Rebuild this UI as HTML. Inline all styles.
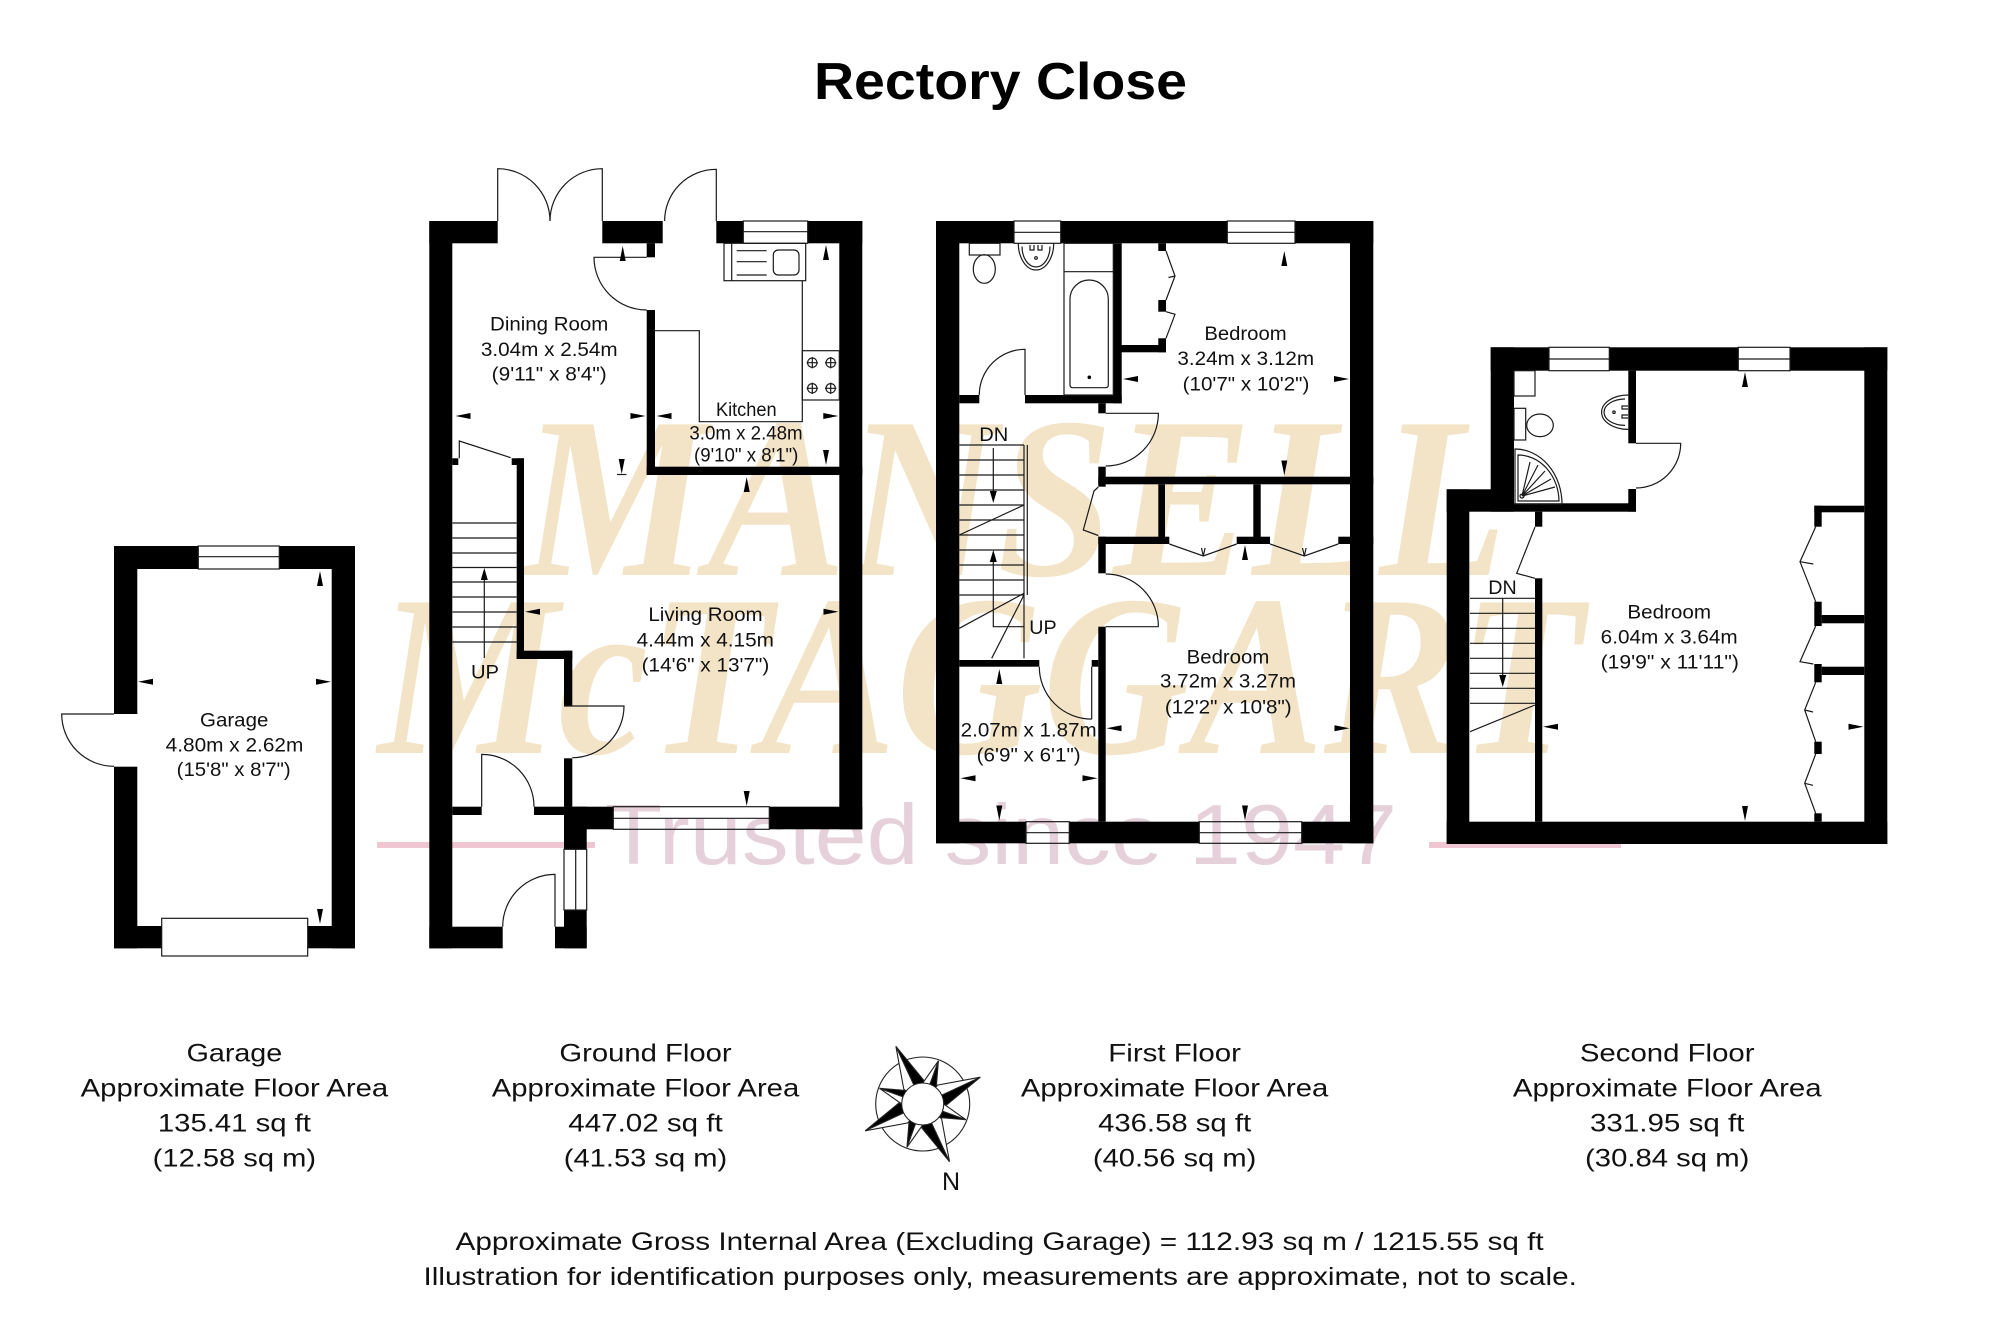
<!DOCTYPE html>
<html><head><meta charset="utf-8"><style>html,body{margin:0;padding:0;background:#fff}svg{display:block}</style></head>
<body>
<svg xmlns="http://www.w3.org/2000/svg" width="2000" height="1334" viewBox="0 0 2000 1334">
<rect width="2000" height="1334" fill="#fff"/>
<!-- watermark -->
<g font-family="'Liberation Serif', serif" font-weight="bold" font-style="italic" fill="#f3e4c8">
<text x="522" y="575" font-size="230" textLength="985" lengthAdjust="spacingAndGlyphs">MANSELL</text>
<text x="378" y="753" font-size="230" textLength="1205" lengthAdjust="spacingAndGlyphs">McTAGGART</text>
</g>
<text x="605" y="864" font-family="'Liberation Sans', sans-serif" font-size="85" fill="#e6d1da" textLength="792" lengthAdjust="spacingAndGlyphs">Trusted since 1947</text>
<rect x="377" y="842" width="218" height="6" fill="#f0c6d3"/>
<rect x="1429" y="842" width="192" height="6" fill="#f0c6d3"/>

<!-- title -->
<text x="814" y="99" font-family="'Liberation Sans', sans-serif" font-weight="bold" font-size="52" textLength="373" lengthAdjust="spacingAndGlyphs">Rectory Close</text>

<!-- WALLS -->
<g fill="#000">
<!-- ground floor -->
<rect x="429.3" y="221" width="23" height="727.3"/>
<rect x="429.3" y="221" width="68.4" height="22.3"/>
<rect x="602.3" y="221" width="60.4" height="22.3"/>
<rect x="716.3" y="221" width="27" height="22.3"/>
<rect x="807.7" y="221" width="54.6" height="22.3"/>
<rect x="839.3" y="221" width="23" height="608.3"/>
<rect x="646.7" y="243.3" width="8.3" height="14"/>
<rect x="646.7" y="310" width="8.3" height="165"/>
<rect x="646.7" y="466.7" width="215.6" height="8.3"/>
<rect x="452.3" y="458.3" width="6" height="6.7"/>
<rect x="511.7" y="458.3" width="12.3" height="6.7"/>
<rect x="516.7" y="458.3" width="7.3" height="200.7"/>
<rect x="516.7" y="650.7" width="55.6" height="8.3"/>
<rect x="564" y="650.7" width="8.3" height="55.3"/>
<rect x="564" y="758.3" width="8.3" height="48.4"/>
<rect x="564" y="806.7" width="49.3" height="22.6"/>
<rect x="769.3" y="806.7" width="93" height="22.6"/>
<rect x="564" y="806.7" width="22.7" height="42.6"/>
<rect x="452.3" y="806.7" width="29.4" height="8.3"/>
<rect x="534" y="806.7" width="30" height="8.3"/>
<rect x="564" y="910" width="22.7" height="38.3"/>
<rect x="429.3" y="926.7" width="73.4" height="21.6"/>
<rect x="555" y="926.7" width="31.7" height="21.6"/>
<!-- garage -->
<rect x="114" y="546" width="23.3" height="168"/>
<rect x="114" y="766.7" width="23.3" height="181.6"/>
<rect x="114" y="546" width="84.3" height="23"/>
<rect x="279.3" y="546" width="75.7" height="23"/>
<rect x="331.7" y="546" width="23.3" height="402.3"/>
<rect x="114" y="926" width="47.7" height="22.3"/>
<rect x="307.7" y="926" width="47.3" height="22.3"/>
<!-- first floor -->
<rect x="936" y="221" width="23.3" height="622.3"/>
<rect x="936" y="221" width="78" height="22.3"/>
<rect x="1060.7" y="221" width="166.6" height="22.3"/>
<rect x="1295" y="221" width="78.3" height="22.3"/>
<rect x="1350" y="221" width="23.3" height="622.3"/>
<rect x="936" y="821.7" width="90" height="21.6"/>
<rect x="1069.3" y="821.7" width="130" height="21.6"/>
<rect x="1301.7" y="821.7" width="71.6" height="21.6"/>
<rect x="1113.3" y="243.3" width="8.4" height="160"/>
<rect x="959.3" y="395" width="20" height="8.3"/>
<rect x="1025" y="395" width="96.7" height="8.3"/>
<rect x="1113.3" y="345" width="52.7" height="7.3"/>
<rect x="1158.3" y="243.3" width="7.7" height="7.7"/>
<rect x="1158.3" y="300" width="7.7" height="11.7"/>
<rect x="1158.3" y="338.3" width="7.7" height="14"/>
<rect x="1098.3" y="403.3" width="7.4" height="10"/>
<rect x="1098.3" y="466.7" width="7.4" height="20"/>
<rect x="1098.3" y="476.7" width="275" height="7.6"/>
<rect x="1158.3" y="484.3" width="6.7" height="59.7"/>
<rect x="1253.3" y="484.3" width="7.4" height="59.7"/>
<rect x="1098.3" y="536.7" width="71" height="7.3"/>
<rect x="1236.7" y="536.7" width="33.3" height="7.3"/>
<rect x="1338.3" y="536.7" width="35" height="7.3"/>
<rect x="1098.3" y="536.7" width="7.4" height="36.6"/>
<rect x="1098.3" y="626.7" width="7.4" height="195"/>
<rect x="959.3" y="660" width="80" height="6.7"/>
<rect x="1091.7" y="660" width="6.6" height="6.7"/>
<!-- second floor -->
<rect x="1490.7" y="347.3" width="23.3" height="164.4"/>
<rect x="1490.7" y="347.3" width="58.3" height="23.4"/>
<rect x="1609.3" y="347.3" width="129" height="23.4"/>
<rect x="1790" y="347.3" width="97.3" height="23.4"/>
<rect x="1864.3" y="347.3" width="23" height="496.7"/>
<rect x="1446.7" y="489.3" width="22.6" height="354.7"/>
<rect x="1446.7" y="489.3" width="67.3" height="22.4"/>
<rect x="1514" y="503.3" width="122" height="8.4"/>
<rect x="1628.3" y="370.7" width="7.7" height="72.6"/>
<rect x="1628.3" y="489" width="7.7" height="22.7"/>
<rect x="1535" y="511.7" width="7.3" height="15"/>
<rect x="1535" y="578.3" width="7.3" height="243.4"/>
<rect x="1446.7" y="821.7" width="440.6" height="22.3"/>
<rect x="1814.3" y="505.7" width="50" height="6.6"/>
<rect x="1814.3" y="505.7" width="7.4" height="21"/>
<rect x="1814.3" y="601.7" width="7.4" height="24.3"/>
<rect x="1814.3" y="664" width="7.4" height="18.3"/>
<rect x="1814.3" y="741.7" width="7.4" height="12.3"/>
<rect x="1814.3" y="813.3" width="7.4" height="8.4"/>
<rect x="1821.7" y="615" width="42.6" height="8.3"/>
<rect x="1821.7" y="666.7" width="42.6" height="8.3"/>
</g>

<!-- THIN LINES -->
<g fill="none" stroke="#1a1a1a" stroke-width="1.2">
<!-- windows -->
<rect x="743.3" y="221" width="64.4" height="22.3"/><line x1="743.3" y1="231.7" x2="807.7" y2="231.7"/>
<rect x="613.3" y="806.7" width="156" height="22.6"/><line x1="613.3" y1="818.3" x2="769.3" y2="818.3"/>
<rect x="564" y="849.3" width="22.7" height="60.7"/><line x1="575.7" y1="849.3" x2="575.7" y2="910"/>
<rect x="198.3" y="546" width="81" height="23"/><line x1="198.3" y1="556.7" x2="279.3" y2="556.7"/>
<rect x="161.7" y="918.3" width="146" height="37.7"/>
<rect x="1014" y="221" width="46.7" height="22.3"/><line x1="1014" y1="232.3" x2="1060.7" y2="232.3"/>
<rect x="1227.3" y="221" width="67.7" height="22.3"/><line x1="1227.3" y1="232.3" x2="1295" y2="232.3"/>
<rect x="1026" y="821.7" width="43.3" height="21.6"/><line x1="1026" y1="832.7" x2="1069.3" y2="832.7"/>
<rect x="1199.3" y="821.7" width="102.4" height="21.6"/><line x1="1199.3" y1="832.7" x2="1301.7" y2="832.7"/>
<rect x="1549" y="347.3" width="60.3" height="23.4"/><line x1="1549" y1="359" x2="1609.3" y2="359"/>
<rect x="1738.3" y="347.3" width="51.7" height="23.4"/><line x1="1738.3" y1="359" x2="1790" y2="359"/>

<!-- ground doors -->
<path d="M497.7,221 V168.7 A52.3,52.3 0 0 1 550,221"/>
<path d="M602.3,221 V168.7 A52.3,52.3 0 0 0 550,221"/>
<path d="M716.3,221 V169.3 A51.7,51.7 0 0 0 664.6,221"/>
<path d="M646.7,257.3 H594 A52.7,52.7 0 0 0 646.7,310"/>
<polyline points="459.3,458.3 459.3,441 510.7,457.7"/>
<path d="M564,706 H624 A51.7,51.7 0 0 1 572.3,757.7"/>
<path d="M481.7,806.7 V754.4 A52.3,52.3 0 0 1 534,806.7"/>
<path d="M555,926.7 V874.4 A52.3,52.3 0 0 0 502.7,926.7"/>
<!-- garage door -->
<path d="M114,714 H61.7 A52.3,52.3 0 0 0 114,766.3"/>
<!-- kitchen -->
<rect x="724" y="243.3" width="81.7" height="37.4"/>
<line x1="731.7" y1="243.3" x2="731.7" y2="280.7"/>
<line x1="736.7" y1="250.7" x2="766.7" y2="250.7"/>
<line x1="736.7" y1="261.7" x2="766.7" y2="261.7"/>
<line x1="736.7" y1="275" x2="766.7" y2="275"/>
<rect x="773.3" y="250" width="25.7" height="25" rx="5"/>
<polyline points="655,330.7 699.3,330.7 699.3,421.7 802.3,421.7 802.3,280.7"/>
<rect x="802.3" y="350.7" width="37" height="49.3"/>
<circle cx="812.3" cy="362.7" r="4.7"/><circle cx="830.7" cy="362.7" r="4.7"/>
<circle cx="812.3" cy="388.3" r="4.7"/><circle cx="830.7" cy="388.3" r="4.7"/>
<path d="M806.6,362.7 H818 M812.3,357 V368.4 M825,362.7 H836.4 M830.7,357 V368.4 M806.6,388.3 H818 M812.3,382.6 V394 M825,388.3 H836.4 M830.7,382.6 V394"/>
<!-- ground stairs -->
<path d="M452.3,523 H516.7 M452.3,538 H516.7 M452.3,553 H516.7 M452.3,567.5 H516.7 M452.3,582 H516.7 M452.3,597 H516.7 M452.3,612 H516.7 M452.3,627 H516.7 M452.3,642 H516.7"/>
<line x1="484.3" y1="658" x2="484.3" y2="578"/>

<!-- first floor doors -->
<path d="M1025,395 V349.3 A45.7,45.7 0 0 0 979.3,395"/>
<path d="M1105.7,413.3 H1158.4 A52.7,52.7 0 0 1 1105.7,466"/>
<polyline points="1098.3,487 1094,491 1083.3,530 1098.3,535.5"/>
<path d="M1105.7,626.7 H1158.4 M1105.7,574 A52.7,52.7 0 0 1 1158.4,626.7"/>
<path d="M1091.7,666.7 V719.1 M1039.3,666.7 A52.4,52.4 0 0 0 1091.7,719.1"/>
<polyline points="1166,251 1175,276 1166,300"/><line x1="1175" y1="276" x2="1168.5" y2="277.5"/>
<polyline points="1166,311.7 1175,314.3 1166,338.3"/>
<polyline points="1169.3,544 1203.3,556 1236.7,544"/><path d="M1201.5,548 L1203.3,556 L1205.1,548"/>
<polyline points="1270,544 1304.3,556 1338.3,544"/><path d="M1302.5,548 L1304.3,556 L1306.1,548"/>
<!-- bathroom first -->
<rect x="969.3" y="243.3" width="30.7" height="11.7"/>
<ellipse cx="984.3" cy="269" rx="11" ry="14.3"/>
<path d="M1018.3,243.3 A17.7,26.7 0 0 0 1053.7,243.3"/>
<path d="M1022,246.5 A14,20.5 0 0 0 1050,246.5"/>
<path d="M1030,245 V250 H1034 V245 M1038,245 V250 H1042 V245"/>
<circle cx="1036" cy="258" r="1.3"/>
<rect x="1064" y="243.3" width="49.3" height="151.7"/>
<line x1="1064" y1="271.7" x2="1113.3" y2="271.7"/>
<path d="M1070,384.7 V299 A19.15,19 0 0 1 1108.3,299 V384.7 Q1108.3,387.7 1105.3,387.7 H1073 Q1070,387.7 1070,384.7 Z"/>
<!-- first stairs -->
<path d="M959.3,445 H1024 M959.3,460 H1024 M959.3,475 H1024 M959.3,490 H1024 M959.3,505 H1024 M959.3,520 H1024 M959.3,535 H1024 M959.3,550 H1024 M959.3,565 H1024 M959.3,580 H1024 M959.3,595 H1024"/>
<line x1="1024" y1="445" x2="1024" y2="658.3"/>
<line x1="1027.3" y1="445" x2="1027.3" y2="595"/>
<line x1="959.3" y1="535" x2="1024" y2="505"/>
<line x1="959.3" y1="628.3" x2="1024" y2="593.3"/>
<line x1="991.7" y1="658.3" x2="1024" y2="595"/>
<line x1="993.3" y1="448" x2="993.3" y2="493"/>
<polyline points="1024,626.7 993.3,626.7 993.3,560"/>

<!-- second floor -->
<path d="M1636,443.3 H1680.7 A44.7,44.7 0 0 1 1636,488"/>
<polyline points="1535,527 1516.7,573.3 1535,578.3"/>
<polyline points="1815.7,526.7 1800,561.7 1815.7,601.7"/><line x1="1800" y1="561.7" x2="1813.3" y2="564"/>
<polyline points="1815.7,626 1800,661.7 1813.3,664"/>
<polyline points="1815.7,682.3 1804.7,710 1815.7,741.7"/><line x1="1804.7" y1="710" x2="1813" y2="712"/>
<polyline points="1815.7,754 1804.7,783.3 1815.7,813.3"/><line x1="1804.7" y1="783.3" x2="1813" y2="785.3"/>
<rect x="1514" y="370.7" width="21" height="25.3"/>
<rect x="1514" y="408.3" width="11.7" height="31.7"/>
<ellipse cx="1540" cy="425.3" rx="13.3" ry="11.3"/>
<path d="M1515,504 V449 A47,55 0 0 1 1562,504 Z"/>
<path d="M1518,501 V455 A41,47 0 0 1 1559,501 Z"/>
<circle cx="1522" cy="496" r="2"/>
<path d="M1522,496 L1530,462 M1522,496 L1538,465 M1522,496 L1545,471 M1522,496 L1551,479 M1522,496 L1555,487"/>
<path d="M1628.3,395 A26.7,17.2 0 0 0 1628.3,429.4"/>
<path d="M1625,399 A21,13.2 0 0 0 1625,425.4"/>
<path d="M1628,406 H1622 V409 H1628 M1628,415 H1622 V418 H1628"/>
<circle cx="1614" cy="412.2" r="1.2"/>
<path d="M1470,598.3 H1535 M1470,613.3 H1535 M1470,628.3 H1535 M1470,643.3 H1535 M1470,658.3 H1535 M1470,673.3 H1535 M1470,688.3 H1535 M1470,703.3 H1535"/>
<line x1="1470" y1="731.7" x2="1535" y2="705"/>
<line x1="1502.7" y1="598.3" x2="1502.7" y2="677"/>
<line x1="617" y1="474.5" x2="626.4" y2="474.5"/>
</g>
<circle cx="1089.3" cy="377.3" r="1.8" fill="#000"/>

<!-- ARROWS -->
<g fill="#000">
<polygon points="484.3,568 480.8,580 487.8,580"/>
<polygon points="993.3,503 989.8,491 996.8,491"/>
<polygon points="993.3,550 989.8,562 996.8,562"/>
<polygon points="1502.7,687 1499.2,675 1506.2,675"/>
<!-- ground -->
<polygon points="622.7,246 619.7,261 625.7,261"/>
<polygon points="455.5,416 470.5,413 470.5,419"/>
<polygon points="645.5,416 630.5,413 630.5,419"/>
<polygon points="656.5,416 671.5,413 671.5,419"/>
<polygon points="838.3,416 823.3,413 823.3,419"/>
<polygon points="826,245 823,260 829,260"/>
<polygon points="826,465 823,450 829,450"/>
<polygon points="621.7,474 618.7,459 624.7,459"/>
<polygon points="746.7,477 743.7,492 749.7,492"/>
<polygon points="525,611.7 540,608.7 540,614.7"/>
<polygon points="838.5,611.7 823.5,608.7 823.5,614.7"/>
<polygon points="746.7,806 743.7,791 749.7,791"/>
<!-- garage -->
<polygon points="320,571 317,586 323,586"/>
<polygon points="138,681.7 153,678.7 153,684.7"/>
<polygon points="331,681.7 316,678.7 316,684.7"/>
<polygon points="320,924 317,909 323,909"/>
<!-- first -->
<polygon points="1284.3,251 1281.3,266 1287.3,266"/>
<polygon points="1123,379 1138,376 1138,382"/>
<polygon points="1349,379 1334,376 1334,382"/>
<polygon points="1284.3,475.5 1281.3,460.5 1287.3,460.5"/>
<polygon points="1245,545 1242,560 1248,560"/>
<polygon points="1106.5,728.3 1121.5,725.3 1121.5,731.3"/>
<polygon points="1349.5,728.3 1334.5,725.3 1334.5,731.3"/>
<polygon points="1245,820.5 1242,805.5 1248,805.5"/>
<polygon points="999.3,669 996.3,684 1002.3,684"/>
<polygon points="960.5,778.3 975.5,775.3 975.5,781.3"/>
<polygon points="1097.5,778.3 1082.5,775.3 1082.5,781.3"/>
<polygon points="999.3,820.5 996.3,805.5 1002.3,805.5"/>
<!-- second -->
<polygon points="1745,372 1742,387 1748,387"/>
<polygon points="1543,726.7 1558,723.7 1558,729.7"/>
<polygon points="1863.5,726.7 1848.5,723.7 1848.5,729.7"/>
<polygon points="1745,821 1742,806 1748,806"/>
</g>

<!-- ROOM LABELS -->
<g font-family="'Liberation Sans', sans-serif" font-size="19" fill="#111" text-anchor="middle">
<text x="549.2" y="330.7" textLength="118.3" lengthAdjust="spacingAndGlyphs">Dining Room</text>
<text x="549.3" y="356" textLength="136.7" lengthAdjust="spacingAndGlyphs">3.04m x 2.54m</text>
<text x="549.2" y="380.7" textLength="115" lengthAdjust="spacingAndGlyphs">(9'11" x 8'4")</text>
<text x="746.3" y="416" textLength="60.7" lengthAdjust="spacingAndGlyphs">Kitchen</text>
<text x="746" y="439.3" textLength="113.3" lengthAdjust="spacingAndGlyphs">3.0m x 2.48m</text>
<text x="746.2" y="461.7" textLength="104.3" lengthAdjust="spacingAndGlyphs">(9'10" x 8'1")</text>
<text x="705.5" y="621" textLength="114.3" lengthAdjust="spacingAndGlyphs">Living Room</text>
<text x="705.3" y="646.7" textLength="137.3" lengthAdjust="spacingAndGlyphs">4.44m x 4.15m</text>
<text x="705.5" y="671.7" textLength="127.7" lengthAdjust="spacingAndGlyphs">(14'6" x 13'7")</text>
<text x="485" y="678.3" textLength="28" lengthAdjust="spacingAndGlyphs">UP</text>
<text x="993.8" y="441" textLength="29" lengthAdjust="spacingAndGlyphs">DN</text>
<text x="1245.5" y="340" textLength="82.3" lengthAdjust="spacingAndGlyphs">Bedroom</text>
<text x="1245.7" y="365" textLength="136.7" lengthAdjust="spacingAndGlyphs">3.24m x 3.12m</text>
<text x="1246" y="390.7" textLength="126.7" lengthAdjust="spacingAndGlyphs">(10'7" x 10'2")</text>
<text x="1043" y="634" textLength="27.4" lengthAdjust="spacingAndGlyphs">UP</text>
<text x="1228" y="663.3" textLength="82.6" lengthAdjust="spacingAndGlyphs">Bedroom</text>
<text x="1228" y="687.7" textLength="136" lengthAdjust="spacingAndGlyphs">3.72m x 3.27m</text>
<text x="1228.3" y="713.3" textLength="126.7" lengthAdjust="spacingAndGlyphs">(12'2" x 10'8")</text>
<text x="1028.7" y="736.7" textLength="136" lengthAdjust="spacingAndGlyphs">2.07m x 1.87m</text>
<text x="1028.7" y="761.7" textLength="104" lengthAdjust="spacingAndGlyphs">(6'9" x 6'1")</text>
<text x="1502.5" y="594" textLength="28.4" lengthAdjust="spacingAndGlyphs">DN</text>
<text x="1669.2" y="618.3" textLength="83.7" lengthAdjust="spacingAndGlyphs">Bedroom</text>
<text x="1669.2" y="643.3" textLength="137" lengthAdjust="spacingAndGlyphs">6.04m x 3.64m</text>
<text x="1669.8" y="668.3" textLength="138.3" lengthAdjust="spacingAndGlyphs">(19'9" x 11'11")</text>
<text x="234.2" y="726.7" textLength="68.3" lengthAdjust="spacingAndGlyphs">Garage</text>
<text x="234.5" y="751.7" textLength="137.7" lengthAdjust="spacingAndGlyphs">4.80m x 2.62m</text>
<text x="233.7" y="776" textLength="114" lengthAdjust="spacingAndGlyphs">(15'8" x 8'7")</text>
</g>

<!-- COMPASS -->
<g stroke="#222" stroke-width="1.1" stroke-linejoin="miter">
<circle cx="922.7" cy="1104" r="47" fill="none"/>
<polygon points="938.4,1060.8 936.1,1089.1 922.7,1104" fill="#000"/>
<polygon points="938.4,1060.8 922.0,1084.0 922.7,1104" fill="#fff"/>
<polygon points="965.9,1119.7 937.6,1117.4 922.7,1104" fill="#000"/>
<polygon points="965.9,1119.7 942.7,1103.3 922.7,1104" fill="#fff"/>
<polygon points="907.0,1147.2 909.3,1118.9 922.7,1104" fill="#000"/>
<polygon points="907.0,1147.2 923.4,1124.0 922.7,1104" fill="#fff"/>
<polygon points="879.5,1088.3 907.8,1090.6 922.7,1104" fill="#000"/>
<polygon points="879.5,1088.3 902.7,1104.7 922.7,1104" fill="#fff"/>
<polygon points="895.9,1046.4 923.5,1080.0 922.7,1104" fill="#000"/>
<polygon points="895.9,1046.4 903.8,1089.2 922.7,1104" fill="#fff"/>
<polygon points="980.3,1077.2 946.7,1104.8 922.7,1104" fill="#000"/>
<polygon points="980.3,1077.2 937.5,1085.1 922.7,1104" fill="#fff"/>
<polygon points="949.5,1161.6 921.9,1128.0 922.7,1104" fill="#000"/>
<polygon points="949.5,1161.6 941.6,1118.8 922.7,1104" fill="#fff"/>
<polygon points="865.2,1130.8 898.7,1103.2 922.7,1104" fill="#000"/>
<polygon points="865.2,1130.8 907.9,1122.9 922.7,1104" fill="#fff"/>
<circle cx="922.7" cy="1104" r="21" fill="#fff"/>
</g>

<!-- BOTTOM TEXT -->
<g font-family="'Liberation Sans', sans-serif" font-size="25" fill="#111" text-anchor="middle">
<text x="951" y="1190" font-size="25">N</text>
<text x="234.4" y="1061.7" textLength="95.6" lengthAdjust="spacingAndGlyphs">Garage</text>
<text x="234.4" y="1096.7" textLength="307.5" lengthAdjust="spacingAndGlyphs">Approximate Floor Area</text>
<text x="234.4" y="1131.7" textLength="153" lengthAdjust="spacingAndGlyphs">135.41 sq ft</text>
<text x="234.4" y="1166.7" textLength="163.4" lengthAdjust="spacingAndGlyphs">(12.58 sq m)</text>
<text x="645.5" y="1061.7" textLength="172.3" lengthAdjust="spacingAndGlyphs">Ground Floor</text>
<text x="645.5" y="1096.7" textLength="307.5" lengthAdjust="spacingAndGlyphs">Approximate Floor Area</text>
<text x="645.5" y="1131.7" textLength="154.4" lengthAdjust="spacingAndGlyphs">447.02 sq ft</text>
<text x="645.5" y="1166.7" textLength="163.4" lengthAdjust="spacingAndGlyphs">(41.53 sq m)</text>
<text x="1174.6" y="1061.7" textLength="132.7" lengthAdjust="spacingAndGlyphs">First Floor</text>
<text x="1174.6" y="1096.7" textLength="307.5" lengthAdjust="spacingAndGlyphs">Approximate Floor Area</text>
<text x="1174.6" y="1131.7" textLength="153" lengthAdjust="spacingAndGlyphs">436.58 sq ft</text>
<text x="1174.6" y="1166.7" textLength="163.4" lengthAdjust="spacingAndGlyphs">(40.56 sq m)</text>
<text x="1667.2" y="1061.7" textLength="174.7" lengthAdjust="spacingAndGlyphs">Second Floor</text>
<text x="1667.2" y="1096.7" textLength="308.7" lengthAdjust="spacingAndGlyphs">Approximate Floor Area</text>
<text x="1667.2" y="1131.7" textLength="154.4" lengthAdjust="spacingAndGlyphs">331.95 sq ft</text>
<text x="1667.2" y="1166.7" textLength="164.3" lengthAdjust="spacingAndGlyphs">(30.84 sq m)</text>
<text x="999.6" y="1250" textLength="1088.2" lengthAdjust="spacingAndGlyphs">Approximate Gross Internal Area (Excluding Garage) = 112.93 sq m / 1215.55 sq ft</text>
<text x="1000.2" y="1285" textLength="1153.3" lengthAdjust="spacingAndGlyphs">Illustration for identification purposes only, measurements are approximate, not to scale.</text>
</g>
</svg>
</body></html>
